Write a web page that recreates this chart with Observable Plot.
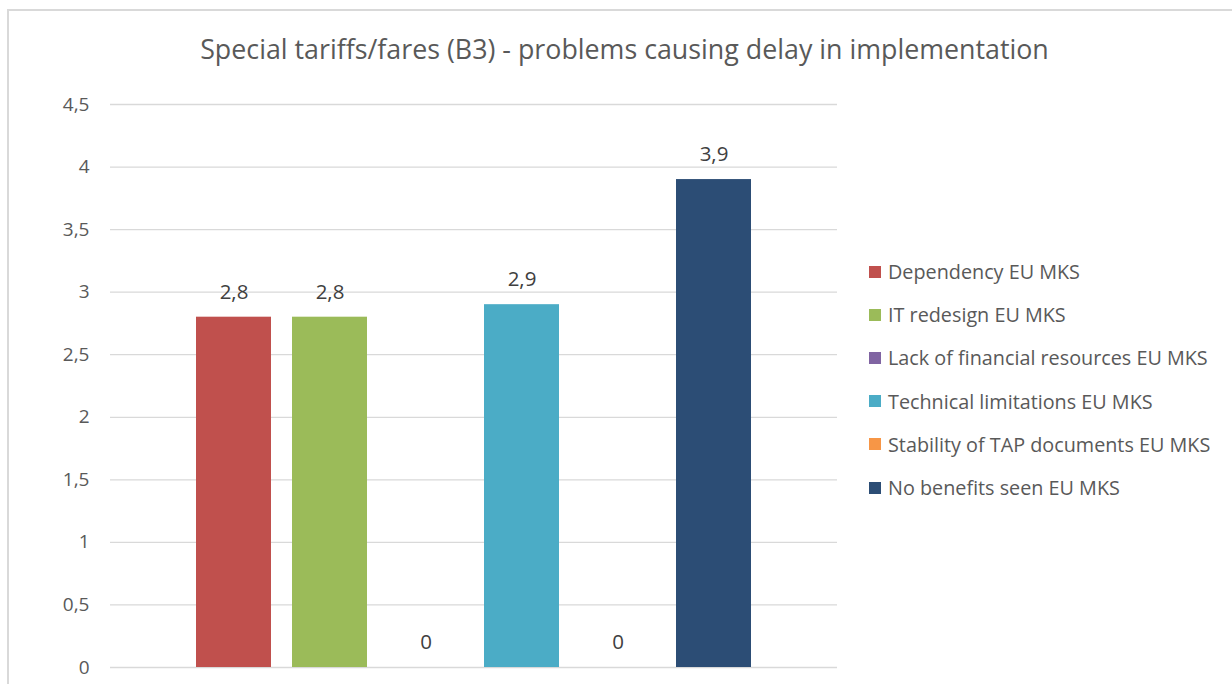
<!DOCTYPE html>
<html>
<head>
<meta charset="utf-8">
<script src="https://cdn.jsdelivr.net/npm/d3@7"></script>
<script src="https://cdn.jsdelivr.net/npm/@observablehq/plot@0.6"></script>
<style>
  html, body { margin: 0; padding: 0; background: #fff; }
  #wrap { position: relative; width: 1232px; height: 684px; overflow: hidden; font-family: "Open Sans", sans-serif; }
  #frame { position: absolute; left: 7px; top: 9px; width: 1400px; height: 900px; border-top: 2px solid #d9d9d9; border-left: 2px solid #d9d9d9; }
  #title { position: absolute; left: 0; width: 1249px; top: 30px; text-align: center; font-size: 26.8px; line-height: 38px; color: #595959; white-space: nowrap; }
  #chart { position: absolute; left: 0; top: 0; }
  #legend { position: absolute; left: 869px; top: 250px; }
  .item { height: 43.2px; display: flex; align-items: center; font-size: 19.8px; color: #595959; white-space: nowrap; }
  .sw { width: 12px; height: 12px; margin-right: 7px; flex: none; }
</style>
</head>
<body>
<div id="wrap">
  <div id="frame"></div>
  <div id="chart"></div>
  <div id="title">Special tariffs/fares (B3) - problems causing delay in implementation</div>
  <div id="legend"></div>
</div>
<script>
const series = [
  "Dependency EU MKS",
  "IT redesign EU MKS",
  "Lack of financial resources EU MKS",
  "Technical limitations EU MKS",
  "Stability of TAP documents EU MKS",
  "No benefits seen EU MKS"
];
const values = [2.8, 2.8, 0, 2.9, 0, 3.9];
const colors = ["#c0504d", "#9bbb59", "#8064a2", "#4bacc6", "#f79646", "#2c4d75"];
const yTicks = [0, 0.5, 1, 1.5, 2, 2.5, 3, 3.5, 4, 4.5];

const fmt = d => String(d).replace(".", ",");
const data = series.map((s, i) => ({s, v: values[i]}));

const chart = Plot.plot({
  width: 1232,
  height: 684,
  marginLeft: 110,
  marginRight: 395,
  marginTop: 104,
  marginBottom: 17,
  style: {fontFamily: "Open Sans, sans-serif", fontSize: "19px", color: "#595959", background: "transparent"},
  x: {domain: series, paddingInner: 0.2236, paddingOuter: 0.875, axis: null},
  y: {domain: [0, 4.5], ticks: yTicks, tickFormat: fmt, tickSize: 0, tickPadding: 21, label: null},
  color: {domain: series, range: colors},
  marks: [
    Plot.ruleY(yTicks, {stroke: "#d9d9d9", strokeWidth: 1.3}),
    Plot.barY(data, {x: "s", y: "v", fill: "s"}),
    Plot.text(data, {x: "s", y: "v", text: d => fmt(d.v), dy: -25, fill: "#404040", fontSize: 20.5})
  ]
});
document.getElementById("chart").appendChild(chart);

const legend = document.getElementById("legend");
series.forEach((s, i) => {
  const it = document.createElement("div");
  it.className = "item";
  const sw = document.createElement("span");
  sw.className = "sw";
  sw.style.background = colors[i];
  const t = document.createElement("span");
  t.textContent = s;
  it.appendChild(sw);
  it.appendChild(t);
  legend.appendChild(it);
});
</script>
</body>
</html>
